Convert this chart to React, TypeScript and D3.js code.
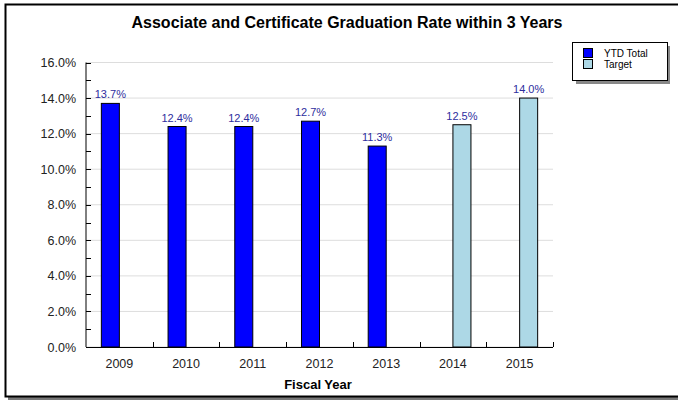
import React from "react";
import * as d3 from "d3";

const years = ["2009", "2010", "2011", "2012", "2013", "2014", "2015"];
const seriesNames = ["YTD Total", "Target"];
const ytdValues: (number | null)[] = [13.7, 12.4, 12.4, 12.7, 11.3, null, null];
const targetValues: (number | null)[] = [null, null, null, null, null, 12.5, 14.0];
const yTicks = [0, 2, 4, 6, 8, 10, 12, 14, 16];
const yMinorTicks = [1, 3, 5, 7, 9, 11, 13, 15];
const colors = ["#0000ff", "#add8e6"];

const W = 678;
const H = 400;
const font = "'Liberation Sans', Arial, sans-serif";

export default function App() {
  const left = 86, right = 553, top = 62.5, bottom = 347;
  const x = d3.scaleBand<string>().domain(years).range([left, right]).paddingInner(0.46).paddingOuter(0.23);
  const sub = d3.scaleBand<string>().domain(seriesNames).range([0, x.bandwidth()]);
  const y = d3.scaleLinear().domain([0, 16]).range([bottom, top]);
  const fmt = (v: number) => v.toFixed(1) + "%";
  const step = (right - left) / years.length;

  const series = [ytdValues, targetValues];

  return (
    <svg width={W} height={H} style={{ position: "fixed", left: 0, top: 0 }} fontFamily={font}>
      <rect x={0} y={0} width={W} height={H} fill="#fff" />
      {/* shadow */}
      <rect x={8} y={397} width={W} height={3} fill="#777" />
      <rect x={5.5} y={4.5} width={W} height={392} fill="#fff" stroke="#000" strokeWidth={2} />
      <text x={347} y={28} textAnchor="middle" fontSize={16} fontWeight="bold" fill="#000">
        Associate and Certificate Graduation Rate within 3 Years
      </text>

      {/* gridlines */}
      {yTicks.map((t) => (
        <line key={"g" + t} x1={left} x2={right} y1={y(t)} y2={y(t)} stroke="#dddddd" strokeWidth={1} />
      ))}
      {/* y axis */}
      <line x1={left} x2={left} y1={top} y2={bottom} stroke="#000" />
      {yTicks.concat(yMinorTicks).map((t) => (
        <line key={"t" + t} x1={left} x2={left + 5} y1={Math.round(y(t)) + 0.5} y2={Math.round(y(t)) + 0.5} stroke="#000" />
      ))}
      {yTicks.map((t) => (
        <text key={"l" + t} x={76} y={y(t) + 4.5} textAnchor="end" fontSize={12.5} fill="#222">
          {fmt(t)}
        </text>
      ))}
      {/* x axis */}
      <line x1={left} x2={right} y1={bottom + 0.5} y2={bottom + 0.5} stroke="#000" />
      {years.map((yr, i) => (
        <line key={"xt" + yr} x1={Math.round(left + step * (i + 1)) + 0.5} x2={Math.round(left + step * (i + 1)) + 0.5} y1={bottom} y2={bottom - 5} stroke="#000" />
      ))}
      {years.map((yr) => (
        <text key={"xl" + yr} x={(x(yr) as number) + x.bandwidth() / 2} y={368} textAnchor="middle" fontSize={12.5} fill="#222">
          {yr}
        </text>
      ))}
      <text x={318} y={389} textAnchor="middle" fontSize={13} fontWeight="bold" fill="#000">
        Fiscal Year
      </text>

      {/* bars */}
      {series.map((vals, si) =>
        vals.map((v, i) => {
          if (v == null) return null;
          const bx = (x(years[i]) as number) + (sub(seriesNames[si]) as number);
          const bw = sub.bandwidth();
          return (
            <g key={si + "-" + i}>
              <rect x={bx} y={y(v)} width={bw} height={bottom - y(v)} fill={colors[si]} stroke="#000" strokeWidth={1} />
              <text x={bx + bw / 2} y={y(v) - 5} textAnchor="middle" fontSize={11} fill="#2e2e9e">
                {fmt(v)}
              </text>
            </g>
          );
        })
      )}

      {/* legend */}
      <rect x={576} y={46} width={94} height={38} fill="#888" />
      <rect x={572.5} y={42.5} width={95} height={38} fill="#fff" stroke="#000" />
      {seriesNames.map((s, i) => (
        <g key={s}>
          <rect x={583.5} y={48.5 + i * 11} width={9} height={9} fill={colors[i]} stroke="#000" />
          <text x={604} y={57 + i * 11} fontSize={10} fill="#000">
            {s}
          </text>
        </g>
      ))}
    </svg>
  );
}
